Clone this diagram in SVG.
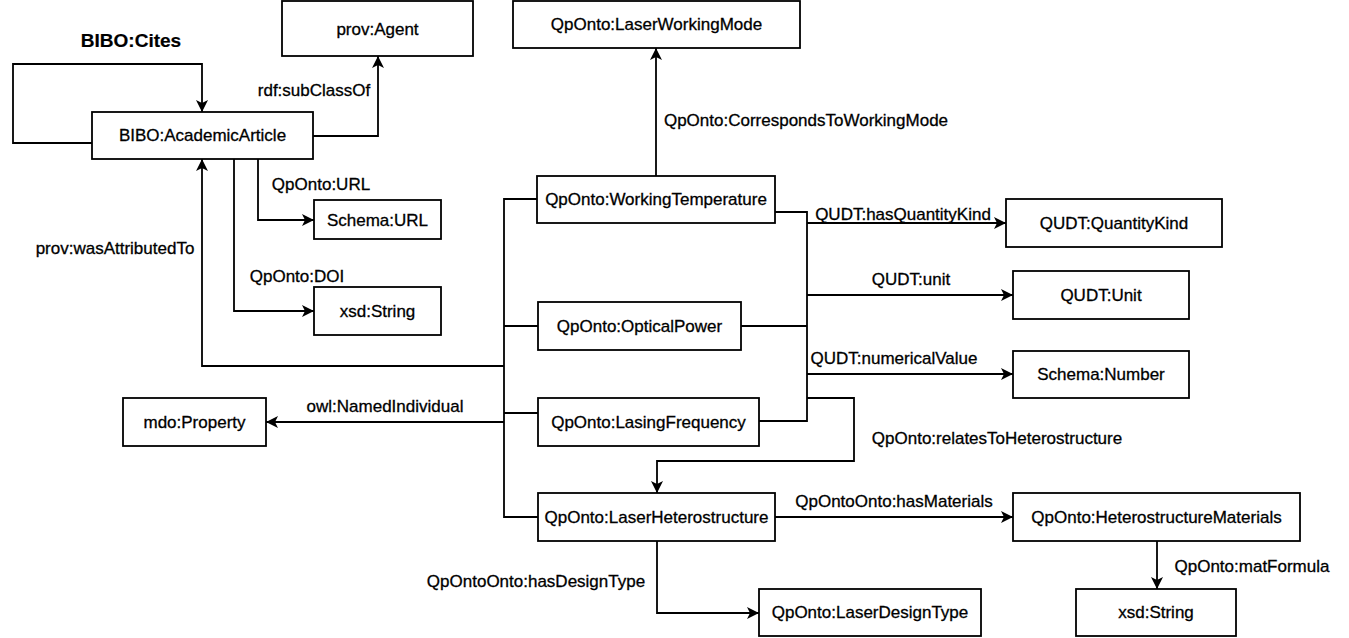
<svg xmlns="http://www.w3.org/2000/svg" width="1349" height="638" viewBox="0 0 1349 638">
<style>
.n rect{fill:#fff;stroke:#000;stroke-width:1.8}
text{font-family:"Liberation Sans",Arial,sans-serif;font-size:17px;fill:#000;stroke:#000;stroke-width:0.3}
.n text{text-anchor:middle}
.c path{fill:none;stroke:#000;stroke-width:1.8}
.a{marker-end:url(#arr)}
.t{font-weight:bold;font-size:19px;stroke-width:0.2}
</style>
<defs>
<marker id="arr" markerUnits="userSpaceOnUse" markerWidth="14" markerHeight="12" refX="12" refY="6" orient="auto">
<path d="M0,0 L12,6 L0,12 L3,6 Z" fill="#000" stroke="none"/>
</marker>
</defs>
<rect width="1349" height="638" fill="#fff"/>
<g class="c">
<path class="a" d="M92,143 H13 V64 H202 V112"/>
<path class="a" d="M313,136 H378 V56"/>
<path class="a" d="M504,366 H202 V159"/>
<path class="a" d="M504,422 H266"/>
<path d="M537,199 H504 V517 H538"/>
<path d="M538,326 H504"/>
<path d="M538,413 H504"/>
<path class="a" d="M258,159 V220 H314"/>
<path class="a" d="M234,159 V311 H314"/>
<path class="a" d="M656,176 V48"/>
<path d="M775,212 H807 V421 H759"/>
<path d="M741,326 H807"/>
<path class="a" d="M807,223 H1006"/>
<path class="a" d="M807,295 H1013"/>
<path class="a" d="M807,374 H1013"/>
<path class="a" d="M807,398 H854 V461 H657 V493"/>
<path class="a" d="M775,517 H1013"/>
<path class="a" d="M657,541 V613 H759"/>
<path class="a" d="M1157,541 V589"/>
</g>
<g id="labels">
<text class="t" x="131" y="47" text-anchor="middle">BIBO:Cites</text>
<text x="314" y="96" text-anchor="middle">rdf:subClassOf</text>
<text x="321" y="190" text-anchor="middle">QpOnto:URL</text>
<text x="297" y="282" text-anchor="middle">QpOnto:DOI</text>
<text x="115" y="254" text-anchor="middle">prov:wasAttributedTo</text>
<text x="385" y="412" text-anchor="middle">owl:NamedIndividual</text>
<text x="806" y="126" text-anchor="middle">QpOnto:CorrespondsToWorkingMode</text>
<text x="903" y="220" text-anchor="middle">QUDT:hasQuantityKind</text>
<text x="911" y="285" text-anchor="middle">QUDT:unit</text>
<text x="894" y="364" text-anchor="middle">QUDT:numericalValue</text>
<text x="997" y="444" text-anchor="middle">QpOnto:relatesToHeterostructure</text>
<text x="894" y="507" text-anchor="middle">QpOntoOnto:hasMaterials</text>
<text x="536" y="587" text-anchor="middle">QpOntoOnto:hasDesignType</text>
<text x="1252" y="572" text-anchor="middle">QpOnto:matFormula</text>
</g>
<g id="n-agent" class="n"><rect x="282" y="1" width="191" height="55"/><text x="377.5" y="35">prov:Agent</text></g>
<g id="n-lwm" class="n"><rect x="513" y="1" width="287" height="47"/><text x="656.5" y="30">QpOnto:LaserWorkingMode</text></g>
<g id="n-article" class="n"><rect x="92" y="112" width="221" height="47"/><text x="202.5" y="141">BIBO:AcademicArticle</text></g>
<g id="n-url" class="n"><rect x="314" y="200" width="127" height="39"/><text x="377.5" y="225.5">Schema:URL</text></g>
<g id="n-str1" class="n"><rect x="314" y="287" width="127" height="48"/><text x="377.5" y="317">xsd:String</text></g>
<g id="n-wt" class="n"><rect x="537" y="176" width="238" height="47"/><text x="656" y="205">QpOnto:WorkingTemperature</text></g>
<g id="n-op" class="n"><rect x="538" y="302" width="203" height="48"/><text x="639.5" y="332">QpOnto:OpticalPower</text></g>
<g id="n-lf" class="n"><rect x="538" y="398" width="221" height="48"/><text x="648.5" y="428">QpOnto:LasingFrequency</text></g>
<g id="n-lh" class="n"><rect x="538" y="493" width="237" height="48"/><text x="656.5" y="523">QpOnto:LaserHeterostructure</text></g>
<g id="n-mdo" class="n"><rect x="123" y="398" width="143" height="48"/><text x="194.5" y="428">mdo:Property</text></g>
<g id="n-qk" class="n"><rect x="1006" y="199" width="216" height="48"/><text x="1114" y="229">QUDT:QuantityKind</text></g>
<g id="n-unit" class="n"><rect x="1013" y="271" width="176" height="48"/><text x="1101" y="301">QUDT:Unit</text></g>
<g id="n-num" class="n"><rect x="1013" y="351" width="176" height="47"/><text x="1101" y="380">Schema:Number</text></g>
<g id="n-hm" class="n"><rect x="1013" y="493" width="287" height="48"/><text x="1156.5" y="523">QpOnto:HeterostructureMaterials</text></g>
<g id="n-ldt" class="n"><rect x="759" y="589" width="222" height="47"/><text x="870" y="618">QpOnto:LaserDesignType</text></g>
<g id="n-str2" class="n"><rect x="1076" y="589" width="160" height="47"/><text x="1156" y="618">xsd:String</text></g>
</svg>
